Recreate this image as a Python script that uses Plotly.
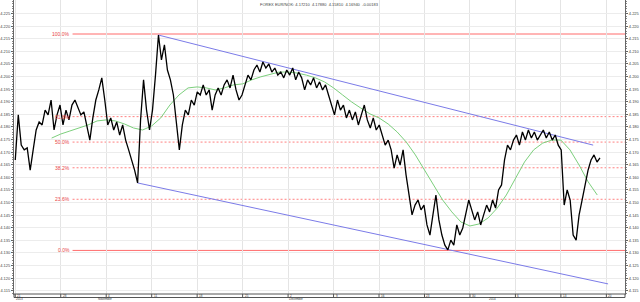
import numpy as np
import plotly.graph_objects as go

# ---- data ----
price = [
4.1669,4.1848,4.1728,4.1709,4.1717,4.1629,4.1709,4.1788,4.1820,4.1808,
4.1867,4.1848,4.1907,4.1788,4.1848,4.1887,4.1808,4.1867,4.1828,4.1887,
4.1907,4.1875,4.1848,4.1860,4.1808,4.1748,4.1836,4.1907,4.1947,4.1995,
4.1907,4.1808,4.1836,4.1788,4.1820,4.1768,4.1808,4.1748,4.1709,4.1669,
4.1629,4.1578,4.1828,4.1987,4.1867,4.1788,4.1867,4.2006,4.2165,4.2066,
4.2126,4.2026,4.1987,4.1927,4.1828,4.1709,4.1808,4.1867,4.1848,4.1907,
4.1887,4.1939,4.1927,4.1967,4.1927,4.1947,4.1867,4.1927,4.1955,4.1927,
4.1967,4.1987,4.1955,4.2006,4.1947,4.1907,4.1927,4.1967,4.2006,4.1987,
4.2026,4.2046,4.2018,4.2058,4.2034,4.2050,4.2018,4.2034,4.2006,4.2018,
4.1995,4.2026,4.2006,4.2034,4.1987,4.2018,4.1995,4.1947,4.1987,4.1967,
4.1995,4.1955,4.1979,4.1947,4.1967,4.1927,4.1887,4.1848,4.1907,4.1867,
4.1887,4.1836,4.1867,4.1828,4.1860,4.1808,4.1848,4.1887,4.1828,4.1796,
4.1836,4.1788,4.1808,4.1768,4.1728,4.1748,4.1709,4.1637,4.1689,4.1649,
4.1709,4.1609,4.1530,4.1451,4.1490,4.1510,4.1471,4.1490,4.1411,4.1371,
4.1451,4.1530,4.1431,4.1371,4.1331,4.1312,4.1351,4.1331,4.1411,4.1371,
4.1399,4.1451,4.1510,4.1471,4.1431,4.1463,4.1411,4.1451,4.1490,4.1463,
4.1510,4.1478,4.1550,4.1570,4.1669,4.1728,4.1709,4.1748,4.1768,4.1728,
4.1780,4.1748,4.1788,4.1756,4.1780,4.1748,4.1768,4.1788,4.1756,4.1780,
4.1748,4.1768,4.1728,4.1709,4.1490,4.1550,4.1510,4.1371,4.1351,4.1451,
4.1510,4.1570,4.1629,4.1669,4.1689,4.1661,4.1677,
]
ma_days = list(range(4, 65))
ma_vals = [
4.1756,4.1772,4.1784,4.1796,4.1808,4.1824,4.1828,4.1824,4.1812,4.1796,
4.1788,4.1804,4.1836,4.1887,4.1927,4.1955,4.1959,4.1955,4.1947,4.1955,
4.1967,4.1971,4.1987,4.1999,4.2010,4.2018,4.2018,4.2014,4.2006,4.1995,
4.1979,4.1955,4.1927,4.1899,4.1875,4.1852,4.1836,4.1812,4.1780,4.1740,
4.1689,4.1629,4.1570,4.1510,4.1463,4.1423,4.1407,4.1415,4.1439,4.1478,
4.1530,4.1597,4.1661,4.1709,4.1736,4.1748,4.1748,4.1709,4.1649,4.1582,
4.1530,
]
upper_channel = {"x": [15.73, 63.55], "y": [4.2165, 4.1728]}
lower_channel = {"x": [13.43, 65.19], "y": [4.1578, 4.1177]}
fib_labels = ["100.0%", "61.8%", "50.0%", "38.2%", "23.6%", "0.0%"]
fib_levels = [4.2169, 4.1841, 4.1740, 4.1638, 4.1513, 4.1310]
day_ticks = [0, 5, 10, 15, 20, 25, 30, 35, 40, 45, 50, 55, 60, 65]
day_labels = ["21", "28", "4", "11", "18", "25", "2", "9", "16", "23", "30", "6", "13", "20"]
month_pos = [0, 9, 30, 52]
month_labels = ["2013", "November", "December", "2014"]
title_text = "FOREX EUR/NOK: 4.17210  4.17880  4.15810  4.16940  -0.00183"

y_ticks = [round(4.115 + 0.005 * k, 3) for k in range(23)]
YR = [4.1137, 4.2304]
XR = [-0.14, 67.05]

n = len(price)
t = np.linspace(0, 64.3, n)

fig = go.Figure()
# fib lines
for lab, lv in zip(fib_labels, fib_levels):
    solid = lab in ("100.0%", "0.0%")
    fig.add_shape(type="line", xref="x", yref="y", x0=6.3, x1=XR[1], y0=lv, y1=lv,
                  line=dict(color="#ff6b6b" if solid else "#ff8080", width=1,
                            dash="solid" if solid else "2px,2px"), layer="below")
    fig.add_annotation(x=6.1, y=lv, xref="x", yref="y", text=lab, showarrow=False,
                       xanchor="right", yanchor="middle", borderpad=0,
                       font=dict(size=5, color="#e84545", family="Liberation Sans"))

fig.add_trace(go.Scatter(x=upper_channel["x"], y=upper_channel["y"], mode="lines",
                         line=dict(color="#7b7be8", width=1), hoverinfo="skip"))
fig.add_trace(go.Scatter(x=lower_channel["x"], y=lower_channel["y"], mode="lines",
                         line=dict(color="#7b7be8", width=1), hoverinfo="skip"))
fig.add_trace(go.Scatter(x=ma_days, y=ma_vals, mode="lines",
                         line=dict(color="#7ccf7c", width=1), hoverinfo="skip"))
fig.add_trace(go.Scatter(x=t, y=price, mode="lines",
                         line=dict(color="#000000", width=1.3), hoverinfo="skip"))
# invisible trace for right axis
fig.add_trace(go.Scatter(x=[XR[0]], y=[YR[0]], yaxis="y2", mode="markers",
                         marker=dict(opacity=0), hoverinfo="skip"))

# bottom band
PH = 294.0
band_h = 3.5 / PH
fig.add_shape(type="rect", xref="paper", yref="paper", x0=0, x1=1, y0=-band_h, y1=0,
              line=dict(color="#555555", width=1), fillcolor="white")
for d, lab in zip(day_ticks, day_labels):
    fig.add_shape(type="line", xref="x", yref="paper", x0=d, x1=d, y0=-band_h, y1=0,
                  line=dict(color="#555555", width=1))
    fig.add_annotation(x=d, y=-band_h / 2, xref="x", yref="paper", text=lab, showarrow=False,
                       xanchor="left", yanchor="middle", xshift=1, borderpad=0,
                       font=dict(size=3, color="#333333", family="Liberation Sans"))
for d, lab in zip(month_pos, month_labels):
    fig.add_annotation(x=d, y=-7.9 / PH, xref="x", yref="paper", text=lab, showarrow=False,
                       xanchor="left", yanchor="bottom", borderpad=0,
                       font=dict(size=3, color="#333333", family="Liberation Sans"))

fig.add_annotation(x=0.5, y=0.997, xref="paper", yref="paper", text=title_text, showarrow=False,
                   xanchor="center", yanchor="top", borderpad=0,
                   font=dict(size=4, color="#444444", family="Liberation Sans"))

axis_font = dict(size=4, color="#444444", family="Liberation Sans")
fig.update_layout(
    width=640, height=302,
    margin=dict(l=13, r=13, t=0, b=8),
    paper_bgcolor="white", plot_bgcolor="white",
    showlegend=False,
    xaxis=dict(range=XR, tickvals=day_ticks, showticklabels=False, showgrid=True,
               gridcolor="#e4e4e4", gridwidth=1, zeroline=False, showline=True,
               linecolor="#888888", linewidth=1, mirror=False, fixedrange=True),
    yaxis=dict(range=YR, tickvals=y_ticks, ticktext=[f"{v:.3f}" for v in y_ticks],
               showgrid=True, gridcolor="#ececec", gridwidth=1, zeroline=False,
               showline=True, linecolor="#666666", linewidth=1, ticks="outside",
               ticklen=2, tickcolor="#666666", tickfont=axis_font, ticklabelstandoff=0,
               minor=dict(ticks="outside", ticklen=1, dtick=0.001, tickcolor="#888888"),
               fixedrange=True),
    yaxis2=dict(range=YR, overlaying="y", side="right", tickvals=y_ticks,
                ticktext=[f"{v:.3f}" for v in y_ticks], showgrid=False, zeroline=False,
                showline=True, linecolor="#666666", linewidth=1, ticks="outside",
                ticklen=2, tickcolor="#666666", tickfont=axis_font,
                minor=dict(ticks="outside", ticklen=1, dtick=0.001, tickcolor="#888888"),
                fixedrange=True),
)
fig.write_html("out.html")
